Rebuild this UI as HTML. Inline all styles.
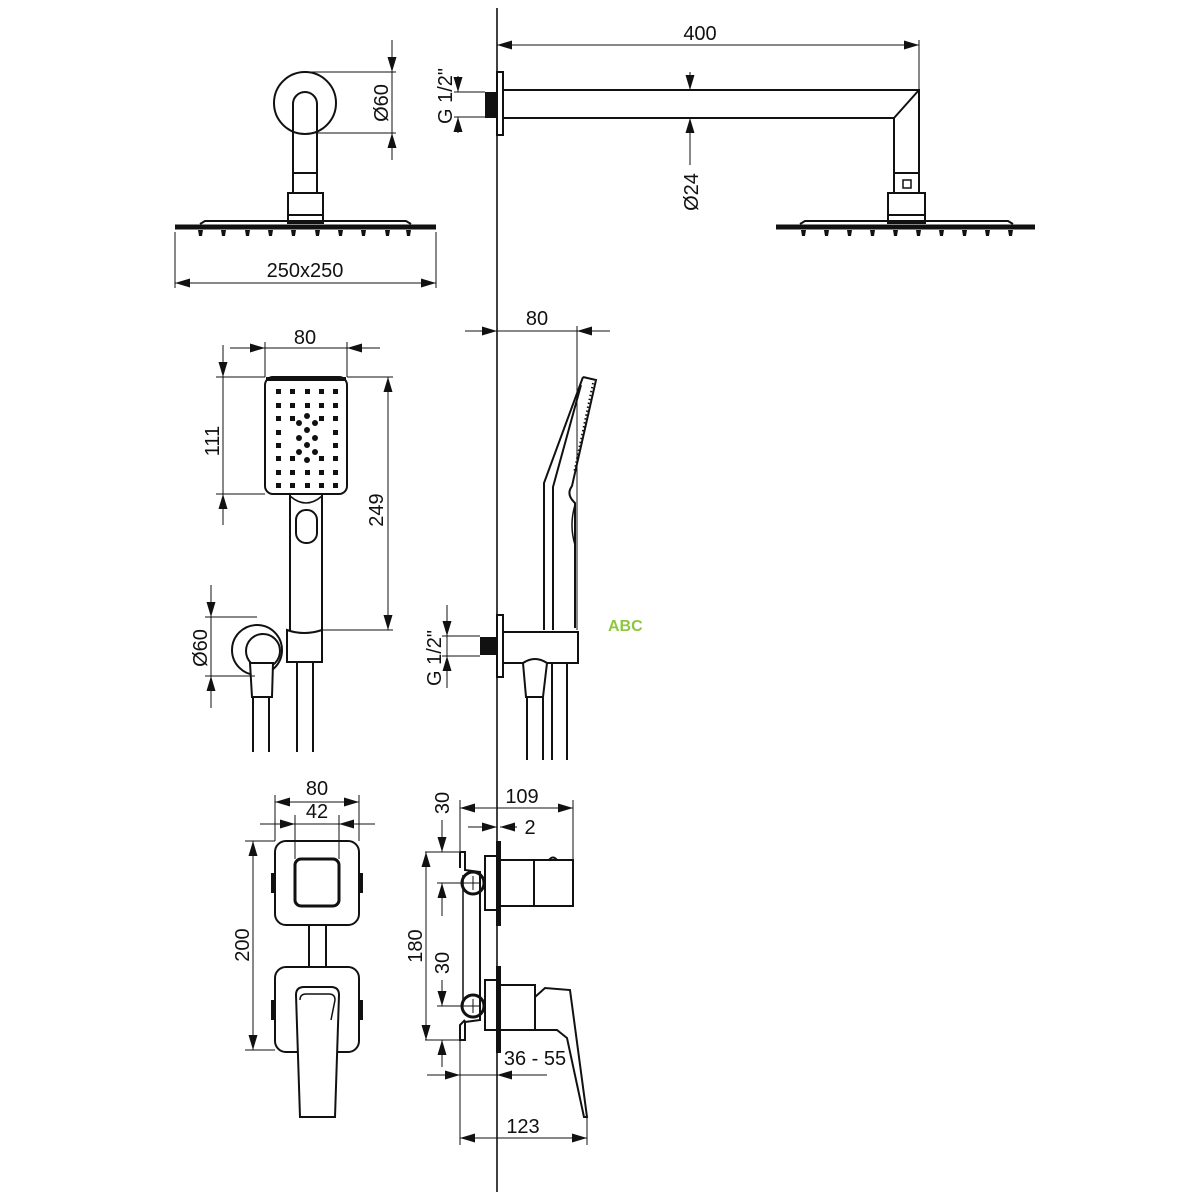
<!DOCTYPE html>
<html><head><meta charset="utf-8"><style>
html,body{margin:0;padding:0;background:#fff;}
svg{display:block;}
text{font-family:"Liberation Sans Narrow","Liberation Sans",sans-serif;font-size:20px;fill:#111;}
</style></head><body>
<svg width="1200" height="1200" viewBox="0 0 1200 1200" xmlns="http://www.w3.org/2000/svg">
<defs>
<marker id="a" markerUnits="userSpaceOnUse" markerWidth="15" markerHeight="10" refX="15" refY="5" orient="auto-start-reverse"><path d="M0,0.5 L15,5 L0,9.5 z" fill="#111"/></marker>
</defs>
<rect width="1200" height="1200" fill="#fff"/>
<line x1="497" y1="8" x2="497" y2="1192" stroke="#111" stroke-width="1.6"/>

<g fill="none" stroke="#111" stroke-width="2">
<circle cx="305" cy="103" r="31"/>
<path d="M293,193 V104 a12,12 0 0 1 24,0 V193"/>
<line x1="293" y1="173" x2="317" y2="173"/>
<rect x="288" y="193" width="35" height="30"/>
<line x1="288" y1="215" x2="323" y2="215"/>
<path d="M175,227 H436" stroke-width="5"/>
<path d="M200,224 L205,221 H406 L411,224" stroke-width="2"/>
</g>
<g fill="#111">
<path d="M198,230h5l-1,6h-3z M221,230h5l-1,6h-3z M245,230h5l-1,6h-3z M268,230h5l-1,6h-3z M291,230h5l-1,6h-3z M315,230h5l-1,6h-3z M338,230h5l-1,6h-3z M361,230h5l-1,6h-3z M385,230h5l-1,6h-3z M406,230h5l-1,6h-3z"/>
</g>
<g stroke="#111" stroke-width="1" fill="none">
<line x1="175" y1="232" x2="175" y2="288"/><line x1="436" y1="232" x2="436" y2="288"/>
<line x1="175" y1="283" x2="436" y2="283" marker-start="url(#a)" marker-end="url(#a)"/>
<line x1="305" y1="72" x2="396" y2="72"/><line x1="310" y1="133" x2="396" y2="133"/>
<line x1="392" y1="40" x2="392" y2="160"/>
<line x1="392" y1="50" x2="392" y2="72" marker-end="url(#a)"/>
<line x1="392" y1="155" x2="392" y2="133" marker-end="url(#a)"/>
</g>
<text x="305" y="277" text-anchor="middle">250x250</text>
<text transform="translate(388,103) rotate(-90)" text-anchor="middle">Ø60</text>

<g fill="none" stroke="#111" stroke-width="2">
<rect x="497" y="72" width="6" height="63"/>
<path d="M503,90 H919 V173 M503,118 H894 V173 M919,90 L894,118"/>
<rect x="894" y="173" width="25" height="20"/>
<rect x="903" y="180" width="8" height="8" stroke-width="1.5"/>
<rect x="888" y="193" width="37" height="30"/>
<line x1="888" y1="215" x2="925" y2="215"/>
<path d="M776,227 H1035" stroke-width="5"/>
<path d="M800,224 L805,221 H1008 L1013,224"/>
</g>
<rect x="485" y="92" width="12" height="26" fill="#111"/>
<g fill="#111">
<path d="M801,230h5l-1,6h-3z M824,230h5l-1,6h-3z M847,230h5l-1,6h-3z M870,230h5l-1,6h-3z M893,230h5l-1,6h-3z M916,230h5l-1,6h-3z M939,230h5l-1,6h-3z M962,230h5l-1,6h-3z M985,230h5l-1,6h-3z M1008,230h5l-1,6h-3z"/>
</g>
<g stroke="#111" stroke-width="1" fill="none">
<line x1="497" y1="45" x2="919" y2="45" marker-start="url(#a)" marker-end="url(#a)"/>
<line x1="919" y1="40" x2="919" y2="90"/>
<line x1="690" y1="72" x2="690" y2="90" marker-end="url(#a)"/>
<line x1="690" y1="165" x2="690" y2="118" marker-end="url(#a)"/>
<line x1="454" y1="92" x2="485" y2="92"/><line x1="454" y1="117" x2="485" y2="117"/>
<line x1="458" y1="76" x2="458" y2="92" marker-end="url(#a)"/>
<line x1="458" y1="133" x2="458" y2="117" marker-end="url(#a)"/>
</g>
<text x="700" y="43" text-anchor="middle" dy="-3">400</text>
<text transform="translate(698,192) rotate(-90)" text-anchor="middle">Ø24</text>
<text transform="translate(452,96) rotate(-90)" text-anchor="middle">G 1/2"</text>

<!-- MIDDLE LEFT hand shower front -->
<g fill="none" stroke="#111" stroke-width="2">
<rect x="265" y="377" width="82" height="117" rx="8"/>
<path d="M290,494 V630 M322,494 V630"/>
<path d="M290,496 q16,14 32,0" stroke-width="1.5"/>
<rect x="296" y="510" width="21" height="33" rx="10"/>
<path d="M287,630 q17,6 35,0 V662 H287 z"/>
<circle cx="257" cy="650" r="25"/>
<circle cx="263" cy="651" r="17"/>
<path d="M250,663 H273 L272,697 H252 z" fill="#fff"/>
<path d="M253,697 V752 M269,697 V752 M297,662 V752 M313,662 V752"/>
</g>
<rect x="266" y="377" width="80" height="4" fill="#111"/>
<g fill="#111">
<rect x="276" y="389" width="5" height="5"/><rect x="290" y="389" width="5" height="5"/><rect x="305" y="389" width="5" height="5"/><rect x="319" y="389" width="5" height="5"/><rect x="333" y="389" width="5" height="5"/>
<rect x="276" y="403" width="5" height="5"/><rect x="290" y="403" width="5" height="5"/><rect x="305" y="403" width="5" height="5"/><rect x="319" y="403" width="5" height="5"/><rect x="333" y="403" width="5" height="5"/>
<rect x="276" y="470" width="5" height="5"/><rect x="290" y="470" width="5" height="5"/><rect x="305" y="470" width="5" height="5"/><rect x="319" y="470" width="5" height="5"/><rect x="333" y="470" width="5" height="5"/>
<rect x="276" y="483" width="5" height="5"/><rect x="290" y="483" width="5" height="5"/><rect x="305" y="483" width="5" height="5"/><rect x="319" y="483" width="5" height="5"/><rect x="333" y="483" width="5" height="5"/>
<rect x="276" y="416" width="5" height="5"/><rect x="333" y="416" width="5" height="5"/>
<rect x="276" y="430" width="5" height="5"/><rect x="333" y="430" width="5" height="5"/>
<rect x="276" y="443" width="5" height="5"/><rect x="333" y="443" width="5" height="5"/>
<rect x="276" y="456" width="5" height="5"/><rect x="333" y="456" width="5" height="5"/>
<rect x="290" y="416" width="5" height="5"/><rect x="319" y="416" width="5" height="5"/>
<rect x="290" y="456" width="5" height="5"/><rect x="319" y="456" width="5" height="5"/>
<circle cx="307" cy="416" r="3"/><circle cx="299" cy="423" r="3"/><circle cx="315" cy="423" r="3"/>
<circle cx="307" cy="430" r="3"/><circle cx="299" cy="438" r="3"/><circle cx="315" cy="438" r="3"/>
<circle cx="307" cy="445" r="3"/><circle cx="299" cy="452" r="3"/><circle cx="315" cy="452" r="3"/>
<circle cx="307" cy="460" r="3"/>
</g>
<g stroke="#111" stroke-width="1" fill="none">
<line x1="265" y1="342" x2="265" y2="377"/><line x1="347" y1="342" x2="347" y2="377"/>
<line x1="230" y1="348" x2="265" y2="348" marker-end="url(#a)"/>
<line x1="380" y1="348" x2="347" y2="348" marker-end="url(#a)"/>
<line x1="265" y1="348" x2="347" y2="348"/>
<line x1="216" y1="377" x2="265" y2="377"/><line x1="216" y1="494" x2="265" y2="494"/>
<line x1="223" y1="345" x2="223" y2="525"/>
<line x1="223" y1="360" x2="223" y2="377" marker-end="url(#a)"/>
<line x1="223" y1="515" x2="223" y2="494" marker-end="url(#a)"/>
<line x1="347" y1="377" x2="393" y2="377"/><line x1="322" y1="630" x2="393" y2="630"/>
<line x1="388" y1="377" x2="388" y2="630" marker-start="url(#a)" marker-end="url(#a)"/>
<line x1="205" y1="617" x2="257" y2="617"/><line x1="205" y1="676" x2="255" y2="676"/>
<line x1="211" y1="585" x2="211" y2="708"/>
<line x1="211" y1="598" x2="211" y2="617" marker-end="url(#a)"/>
<line x1="211" y1="696" x2="211" y2="676" marker-end="url(#a)"/>
</g>
<text x="305" y="344" text-anchor="middle">80</text>
<text transform="translate(219,441) rotate(-90)" text-anchor="middle">111</text>
<text transform="translate(383,510) rotate(-90)" text-anchor="middle">249</text>
<text transform="translate(207,648) rotate(-90)" text-anchor="middle">Ø60</text>

<!-- MIDDLE RIGHT hand shower side -->
<g fill="none" stroke="#111" stroke-width="2">
<path d="M583,377 L596,380 L572,486 q-6,8 2,16 L575,503 V628 M583,377 L544,483 V630 M553,630 V487 L581,385"/>
<path d="M593,383 L574,473" stroke-dasharray="1.5,2.5" stroke-width="2"/>
<path d="M575,505 q-6,20 0,40" stroke-width="1.5"/>
<rect x="497" y="615" width="6" height="62"/>
<rect x="503" y="632" width="75" height="31" fill="#fff"/>
<path d="M523,663 q12,-8 24,0 L543,697 H526 z" fill="#fff"/>
<path d="M527,697 V760 M543,697 V760 M552,663 V760 M567,663 V760"/>
</g>
<rect x="480" y="637" width="17" height="18" fill="#111"/>
<g stroke="#111" stroke-width="1" fill="none">
<line x1="465" y1="331" x2="497" y2="331" marker-end="url(#a)"/>
<line x1="610" y1="331" x2="577" y2="331" marker-end="url(#a)"/>
<line x1="497" y1="331" x2="577" y2="331"/>
<line x1="577" y1="326" x2="577" y2="630"/>
<line x1="442" y1="636" x2="480" y2="636"/><line x1="442" y1="656" x2="480" y2="656"/>
<line x1="447" y1="605" x2="447" y2="688"/>
<line x1="447" y1="618" x2="447" y2="636" marker-end="url(#a)"/>
<line x1="447" y1="674" x2="447" y2="656" marker-end="url(#a)"/>
</g>
<text x="537" y="325" text-anchor="middle">80</text>
<text transform="translate(441,658) rotate(-90)" text-anchor="middle">G 1/2"</text>
<text x="608" y="631" style="font-family:'Liberation Sans',sans-serif;font-weight:bold;font-size:16px;fill:#8dc63f">ABC</text>

<!-- BOTTOM LEFT mixer front -->
<g fill="none" stroke="#111" stroke-width="2">
<rect x="275" y="841" width="84" height="84" rx="11"/>
<rect x="295" y="859" width="44" height="47" rx="6" stroke-width="3"/>
<path d="M309,925 V967 M326,925 V967"/>
<rect x="275" y="967" width="84" height="85" rx="11"/>
<path d="M300,1117 L296,995 q0,-8 8,-8 H331 q8,0 8,8 L335,1117 z" fill="#fff"/>
<path d="M300,1000 q0,-6 6,-6 H329 q6,0 6,6 L331,1020" stroke-width="1.5"/>
</g>
<g fill="#111">
<rect x="271" y="873" width="4" height="20"/><rect x="359" y="873" width="4" height="20"/>
<rect x="271" y="1000" width="4" height="20"/><rect x="359" y="1000" width="4" height="20"/>
</g>
<g stroke="#111" stroke-width="1" fill="none">
<line x1="275" y1="795" x2="275" y2="841"/><line x1="359" y1="795" x2="359" y2="841"/>
<line x1="275" y1="802" x2="359" y2="802" marker-start="url(#a)" marker-end="url(#a)"/>
<line x1="295" y1="815" x2="295" y2="859"/><line x1="339" y1="815" x2="339" y2="859"/>
<line x1="260" y1="824" x2="375" y2="824"/>
<line x1="278" y1="824" x2="295" y2="824" marker-end="url(#a)"/>
<line x1="356" y1="824" x2="339" y2="824" marker-end="url(#a)"/>
<line x1="245" y1="841" x2="275" y2="841"/><line x1="245" y1="1050" x2="275" y2="1050"/>
<line x1="253" y1="841" x2="253" y2="1050" marker-start="url(#a)" marker-end="url(#a)"/>
</g>
<text x="317" y="798" text-anchor="middle" dy="-3">80</text>
<text x="317" y="820" text-anchor="middle" dy="-2">42</text>
<text transform="translate(249,945) rotate(-90)" text-anchor="middle">200</text>

<!-- BOTTOM RIGHT mixer side -->
<g fill="none" stroke="#111" stroke-width="2">
<path d="M460,852 H465 V870 L480,872 V1020 L465,1022 V1040 H460 V1025 L465,1020 M460,852 V868"/>
<path d="M463,875 V1005" stroke-width="1.5"/>
<circle cx="473" cy="883" r="11" stroke-width="3"/>
<circle cx="473" cy="1006" r="11" stroke-width="3"/>
<rect x="485" y="856" width="12" height="54"/>
<rect x="485" y="980" width="12" height="50"/>
<rect x="497" y="842" width="3" height="83" fill="#111"/>
<rect x="497" y="967" width="3" height="85" fill="#111"/>
<rect x="500" y="860" width="73" height="46"/>
<line x1="534" y1="860" x2="534" y2="906"/>
<path d="M549,860 q4,-5 8,0"/>
<rect x="500" y="985" width="35" height="45"/>
<path d="M535,997 L545,988 L570,990 L587,1117 L584,1117 L567,1038 L557,1030 L535,1030"/>
</g>
<g stroke="#111" stroke-width="1">
<line x1="466" y1="883" x2="480" y2="883"/><line x1="473" y1="876" x2="473" y2="890"/>
<line x1="466" y1="1006" x2="480" y2="1006"/><line x1="473" y1="999" x2="473" y2="1013"/>
</g>
<g stroke="#111" stroke-width="1" fill="none">
<line x1="460" y1="800" x2="460" y2="852"/><line x1="573" y1="800" x2="573" y2="860"/>
<line x1="460" y1="808" x2="573" y2="808" marker-start="url(#a)" marker-end="url(#a)"/>
<line x1="468" y1="827" x2="497" y2="827" marker-end="url(#a)"/>
<line x1="517" y1="827" x2="500" y2="827" marker-end="url(#a)"/>
<line x1="425" y1="852" x2="465" y2="852"/><line x1="425" y1="1040" x2="465" y2="1040"/>
<line x1="426" y1="852" x2="426" y2="1040" marker-start="url(#a)" marker-end="url(#a)"/>
<line x1="442" y1="820" x2="442" y2="852" marker-end="url(#a)"/>
<line x1="437" y1="883" x2="473" y2="883"/>
<line x1="442" y1="916" x2="442" y2="883" marker-end="url(#a)"/>
<line x1="442" y1="980" x2="442" y2="1006" marker-end="url(#a)"/>
<line x1="437" y1="1006" x2="473" y2="1006"/>
<line x1="442" y1="1067" x2="442" y2="1040" marker-end="url(#a)"/>
<line x1="427" y1="1075" x2="547" y2="1075"/>
<line x1="440" y1="1075" x2="460" y2="1075" marker-end="url(#a)"/>
<line x1="517" y1="1075" x2="497" y2="1075" marker-end="url(#a)"/>
<line x1="460" y1="1040" x2="460" y2="1145"/><line x1="587" y1="1117" x2="587" y2="1145"/>
<line x1="460" y1="1138" x2="587" y2="1138" marker-start="url(#a)" marker-end="url(#a)"/>
</g>
<text x="522" y="803" text-anchor="middle">109</text>
<text x="530" y="834" text-anchor="middle">2</text>
<text transform="translate(422,946) rotate(-90)" text-anchor="middle">180</text>
<text transform="translate(449,803) rotate(-90)" text-anchor="middle">30</text>
<text transform="translate(449,963) rotate(-90)" text-anchor="middle">30</text>
<text x="535" y="1065" text-anchor="middle">36 - 55</text>
<text x="523" y="1133" text-anchor="middle">123</text>
</svg>
</body></html>
